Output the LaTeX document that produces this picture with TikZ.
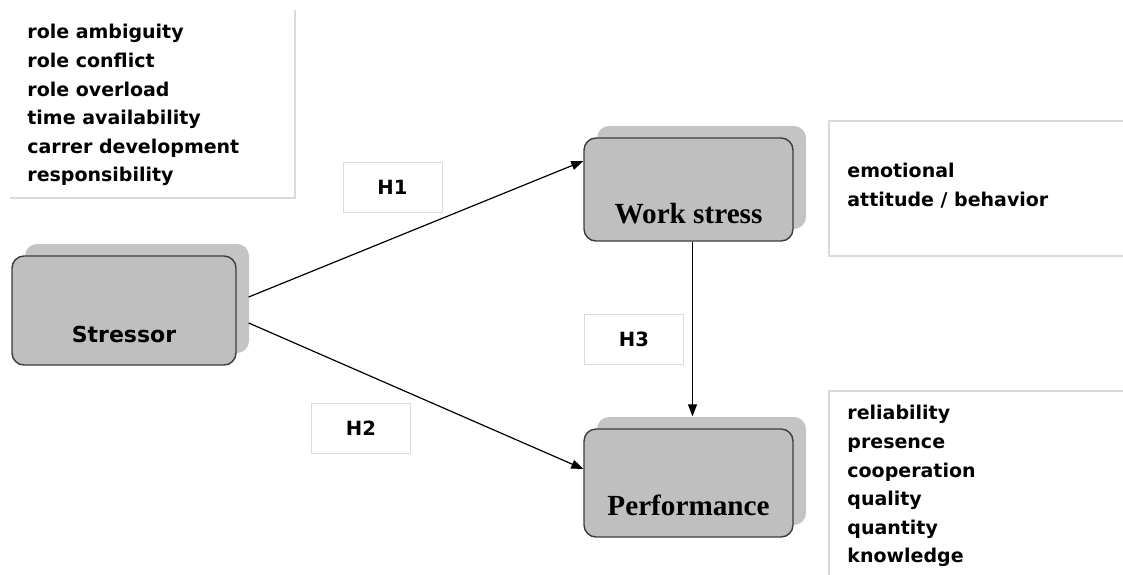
\documentclass[tikz,border=0pt]{standalone}
\usepackage{fontspec}
\setmainfont{Liberation Serif}
\newfontfamily\listfont{DejaVu Sans}
\definecolor{BoxGray}{HTML}{BFBFBF}
\definecolor{ShadowGray}{HTML}{C4C4C4}
\definecolor{EdgeGray}{HTML}{3C3C3C}
\definecolor{FrameGray}{HTML}{DADADA}
\usetikzlibrary{arrows.meta,positioning,shadows}

\tikzset{
  construct/.style={
    draw=EdgeGray,
    line width=0.7pt,
    fill=BoxGray,
    rounded corners=6pt,
    inner ysep=0pt,
    drop shadow={shadow xshift=6.5pt, shadow yshift=6pt, fill=ShadowGray, opacity=1}
  },
  hypo/.style={
    draw=FrameGray,
    fill=white,
    minimum width=49.5pt,
    minimum height=25pt,
    font=\listfont\bfseries\fontsize{9.8}{11}\selectfont
  },
  itemlist/.style={
    anchor=north west,
    inner sep=0pt,
    align=left,
    font=\listfont\bfseries\fontsize{9.5}{14.3}\selectfont
  },
  frame/.style={draw=FrameGray, line width=0.6pt},
  link/.style={draw=black, line width=0.6pt, -{Triangle[length=6pt,width=4.5pt]}}
}

\begin{document}
\begin{tikzpicture}[x=0.5pt, y=-0.5pt]
  \clip (0,0) rectangle (1123,574);

  % indicator lists
  \draw[frame] (295,10) -- (295,198) -- (10,198);
  \node[itemlist] (stressorlist) at (27,24) {%
    role ambiguity\\
    role conflict\\
    role overload\\
    time availability\\
    carrer development\\
    responsibility
  };
  \draw[frame] (1130,121) -- (829,121) -- (829,256) -- (1130,256);
  \node[itemlist] (stresslist) at (847,163) {%
    emotional\\
    attitude / behavior
  };
  \draw[frame] (1130,391) -- (829,391) -- (829,580);
  \node[itemlist] (perflist) at (847,405) {%
    reliability\\
    presence\\
    cooperation\\
    quality\\
    quantity\\
    knowledge
  };

  % constructs
  \node[construct, minimum width=112pt, text height=43pt, text depth=11.5pt,
        font=\listfont\bfseries\fontsize{11}{13}\selectfont] (stressor) at (124,310.5) {Stressor};
  \node[construct, minimum width=104.5pt, text height=42.5pt, text depth=9pt,
        font=\bfseries\fontsize{14.6}{16}\selectfont] (workstress) at (688.5,189.5) {Work stress};
  \node[construct, minimum width=104.5pt, text height=43pt, text depth=11pt,
        font=\bfseries\fontsize{14.6}{16}\selectfont] (performance) at (688.5,483) {Performance};

  % hypotheses
  \node[hypo] (h1) at (392.5,187) {H1};
  \node[hypo] (h2) at (361,428) {H2};
  \node[hypo] (h3) at (634,339.5) {H3};

  \draw[link] ([shift={(6pt,6.75pt)}]stressor.east) -- ([yshift=14.25pt]workstress.west);
  \draw[link] ([shift={(6pt,-6.25pt)}]stressor.east) -- ([yshift=7pt]performance.west);
  \draw[link] ([xshift=2pt]workstress.south) -- ([shift={(2pt,6pt)}]performance.north);
\end{tikzpicture}
\end{document}
